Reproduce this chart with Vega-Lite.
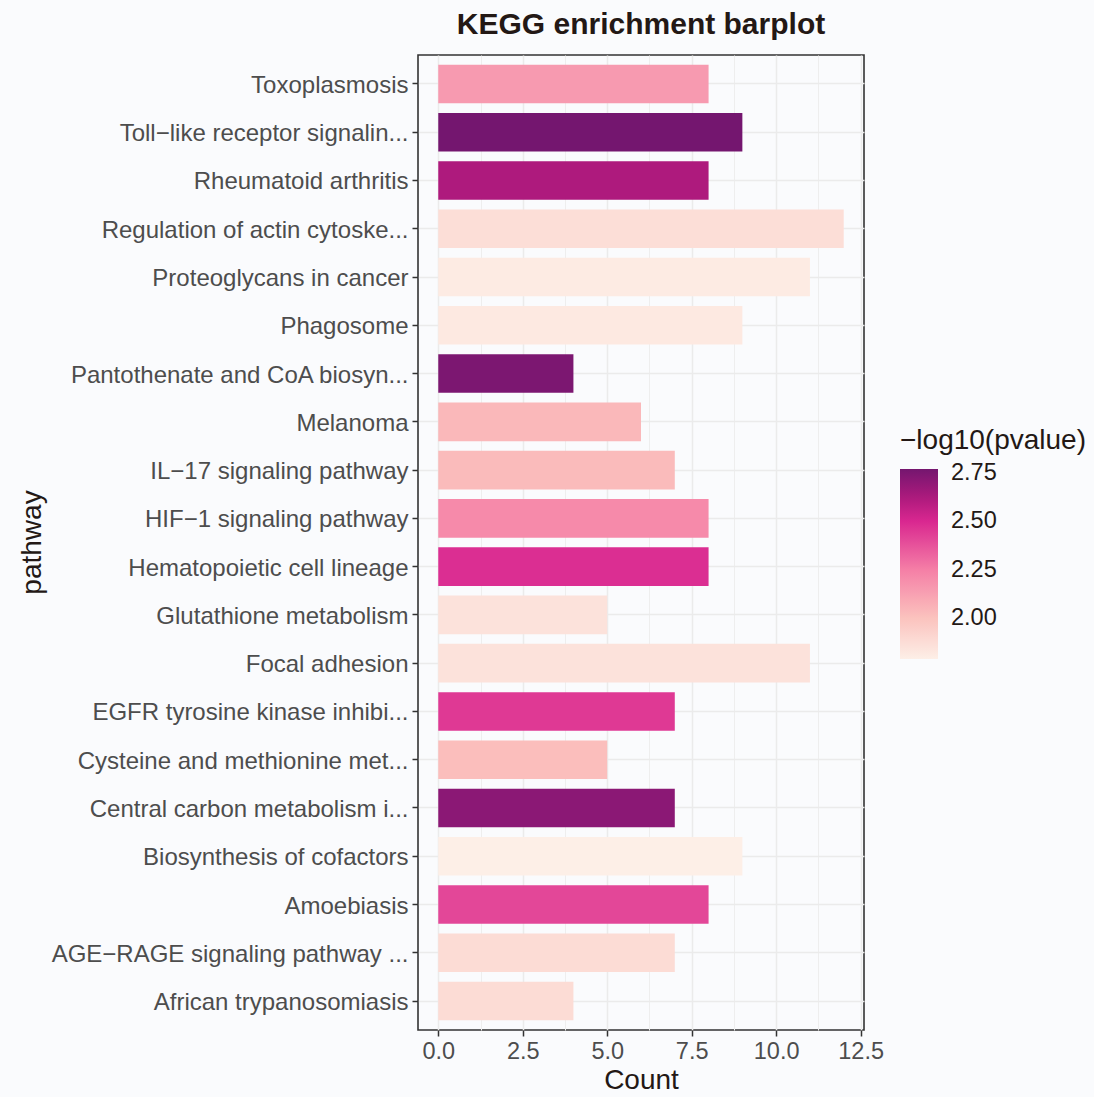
{
  "$schema": "https://vega.github.io/schema/vega-lite/v6.json",
  "width": 446,
  "height": 975,
  "autosize": "none",
  "padding": {"left": 418, "top": 55, "right": 230, "bottom": 67},
  "background": "#FAFBFD",
  "title": {
    "text": "KEGG enrichment barplot",
    "font": "Liberation Sans",
    "fontSize": 30,
    "fontWeight": "bold",
    "color": "#231815",
    "anchor": "middle",
    "frame": "group",
    "baseline": "alphabetic",
    "offset": -9
  },
  "config": {
    "font": "Liberation Sans",
    "view": {"stroke": "#333333", "strokeWidth": 1.6, "fill": "#FAFBFD"},
    "axisY": {
      "grid": true,
      "gridColor": "#EBEBEB",
      "gridWidth": 1.5,
      "domain": false,
      "tickColor": "#333333",
      "tickWidth": 1.5,
      "tickSize": 6,
      "labelPadding": 4,
      "labelOffset": 2,
      "labelFontSize": 24,
      "labelColor": "#4D4D4D",
      "labelLimit": 0,
      "titleFontSize": 28,
      "titleFontWeight": "normal",
      "titleColor": "#231815",
      "titleBaseline": "alphabetic",
      "titleAngle": -90,
      "titleX": -378,
      "titleY": 487
    }
  },
  "data": {
    "values": [
      {"pathway": "Toxoplasmosis", "Count": 8, "logp": 2.15},
      {"pathway": "Toll−like receptor signalin...", "Count": 9, "logp": 2.77},
      {"pathway": "Rheumatoid arthritis", "Count": 8, "logp": 2.62},
      {"pathway": "Regulation of actin cytoske...", "Count": 12, "logp": 1.87},
      {"pathway": "Proteoglycans in cancer", "Count": 11, "logp": 1.81},
      {"pathway": "Phagosome", "Count": 9, "logp": 1.82},
      {"pathway": "Pantothenate and CoA biosyn...", "Count": 4, "logp": 2.75},
      {"pathway": "Melanoma", "Count": 6, "logp": 2.04},
      {"pathway": "IL−17 signaling pathway", "Count": 7, "logp": 2.03},
      {"pathway": "HIF−1 signaling pathway", "Count": 8, "logp": 2.21},
      {"pathway": "Hematopoietic cell lineage", "Count": 8, "logp": 2.48},
      {"pathway": "Glutathione metabolism", "Count": 5, "logp": 1.85},
      {"pathway": "Focal adhesion", "Count": 11, "logp": 1.85},
      {"pathway": "EGFR tyrosine kinase inhibi...", "Count": 7, "logp": 2.45},
      {"pathway": "Cysteine and methionine met...", "Count": 5, "logp": 2.02},
      {"pathway": "Central carbon metabolism i...", "Count": 7, "logp": 2.71},
      {"pathway": "Biosynthesis of cofactors", "Count": 9, "logp": 1.79},
      {"pathway": "Amoebiasis", "Count": 8, "logp": 2.41},
      {"pathway": "AGE−RAGE signaling pathway ...", "Count": 7, "logp": 1.88},
      {"pathway": "African trypanosomiasis", "Count": 4, "logp": 1.88}
    ]
  },
  "resolve": {"axis": {"x": "independent"}},
  "layer": [
    {
      "mark": {"type": "bar", "opacity": 0},
      "encoding": {
        "x": {
          "field": "Count",
          "type": "quantitative",
          "scale": {"domain": [-0.6, 12.6], "nice": false, "zero": false},
          "axis": {
            "orient": "bottom",
            "values": [1.25, 3.75, 6.25, 8.75, 11.25],
            "grid": true,
            "gridColor": "#EEEEEE",
            "gridWidth": 1,
            "labels": false,
            "ticks": false,
            "domain": false,
            "title": null
          }
        },
        "y": {
          "field": "pathway",
          "type": "nominal",
          "sort": null,
          "scale": {"paddingInner": 0.2, "paddingOuter": 0.2},
          "axis": {"title": "pathway"}
        }
      }
    },
    {
      "mark": {"type": "bar"},
      "encoding": {
        "x": {
          "field": "Count",
          "type": "quantitative",
          "scale": {"domain": [-0.6, 12.6], "nice": false, "zero": false},
          "axis": {
            "orient": "bottom",
            "values": [0, 2.5, 5, 7.5, 10, 12.5],
            "format": ".1f",
            "grid": true,
            "gridColor": "#EBEBEB",
            "gridWidth": 1.5,
            "domain": false,
            "ticks": true,
            "tickColor": "#333333",
            "tickWidth": 1.5,
            "tickSize": 6,
            "labelPadding": 3,
            "labelFontSize": 23.5,
            "labelColor": "#4D4D4D",
            "title": "Count",
            "titleFontSize": 28,
            "titleFontWeight": "normal",
            "titleColor": "#231815",
            "titleBaseline": "alphabetic",
            "titleX": 223,
            "titleY": 58
          }
        },
        "y": {
          "field": "pathway",
          "type": "nominal",
          "sort": null,
          "scale": {"paddingInner": 0.2, "paddingOuter": 0.2},
          "axis": {"title": "pathway"}
        },
        "color": {
          "field": "logp",
          "type": "quantitative",
          "scale": {
            "domain": [1.79, 2.0, 2.25, 2.5, 2.62, 2.77],
            "range": ["#FDEFE7", "#FBC3BE", "#F57FA6", "#D92790", "#AE1A7D", "#74166F"],
            "interpolate": "rgb"
          },
          "legend": {
            "title": "−log10(pvalue)",
            "orient": "none",
            "legendX": 482,
            "legendY": 372,
            "padding": 0,
            "direction": "vertical",
            "gradientLength": 190,
            "gradientThickness": 38,
            "gradientStrokeWidth": 0,
            "values": [2.0, 2.25, 2.5, 2.75],
            "format": ".2f",
            "labelFontSize": 23.5,
            "labelColor": "#231815",
            "labelOffset": 13,
            "titleFontSize": 28,
            "titleFontWeight": "normal",
            "titleColor": "#231815",
            "titlePadding": 14,
            "titleLimit": 0
          }
        }
      }
    }
  ]
}
